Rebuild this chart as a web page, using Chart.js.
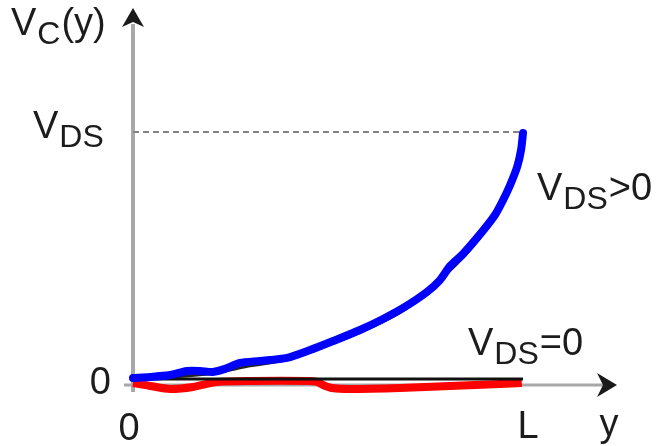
<!DOCTYPE html>
<html>
<head>
<meta charset="utf-8">
<script src="https://cdn.jsdelivr.net/npm/chart.js@4.4.0/dist/chart.umd.min.js"></script>
<style>
  html, body { margin: 0; padding: 0; background: #fff; }
  #caixa { width: 661px; height: 446px; }
</style>
</head>
<body>
<div id="caixa"><canvas id="graficoCanal"></canvas></div>
<script>
// posicao ao longo do canal (em unidades de L) e tensao do canal (em unidades de VDS)
var posPositivo = [0, 0.044, 0.095, 0.138, 0.172, 0.205, 0.236, 0.274, 0.326, 0.395, 0.454, 0.513, 0.582, 0.641, 0.697, 0.754, 0.787, 0.813, 0.846, 0.897, 0.928, 0.949, 0.967, 0.985, 0.995, 1.0];
var vcPositivo = [0.02, 0.024, 0.032, 0.048, 0.048, 0.044, 0.056, 0.080, 0.088, 0.100, 0.131, 0.167, 0.211, 0.255, 0.303, 0.363, 0.410, 0.466, 0.514, 0.606, 0.669, 0.729, 0.789, 0.861, 0.928, 0.996];

// curva teorica (preta) que fica quase toda escondida pela azul
var posTeorica = [0, 0.1, 0.2, 0.3, 0.4, 0.5, 0.6, 0.7, 0.8, 0.85, 0.9, 0.95, 0.98, 1.0];
var vcTeorica = [0.012, 0.024, 0.038, 0.068, 0.094, 0.150, 0.214, 0.296, 0.430, 0.506, 0.600, 0.720, 0.836, 0.98];

var posZero = [0, 0.044, 0.095, 0.154, 0.215, 0.3, 0.45, 0.472, 0.49, 0.51, 0.556, 0.685, 0.813, 0.941, 0.997];
var vcZero = [0, -0.012, -0.024, -0.016, 0.004, 0.008, 0.008, 0.004, -0.010, -0.020, -0.024, -0.020, -0.012, -0.004, 0];

var posReta = [0, 1];
var vcReta = [0.016, 0.016];
var nivelVds = [1, 1];

function pontos(xs, ys) {
  var lista = [];
  for (var i = 0; i < xs.length; i++) {
    lista.push({ x: xs[i], y: ys[i] });
  }
  return lista;
}

var corTexto = "#1c1c1c";
var fonte = "'Liberation Sans', Arial, sans-serif";

// escreve algo como V_DS>0 com o indice rebaixado
function rotulo(ctx, x, base, principal, indice, resto) {
  ctx.font = "38px " + fonte;
  ctx.fillText(principal, x, base);
  x += ctx.measureText(principal).width + 1;
  if (indice) {
    ctx.font = "32px " + fonte;
    ctx.fillText(indice, x, base + 9);
    x += ctx.measureText(indice).width + 1;
  }
  if (resto) {
    ctx.font = "38px " + fonte;
    ctx.fillText(resto, x, base);
  }
}

var eixos = {
  id: "eixos",
  beforeDatasetsDraw(chart) {
    var ctx = chart.ctx;
    var area = chart.chartArea;
    var x0 = chart.scales.x.getPixelForValue(0);
    var y0 = chart.scales.y.getPixelForValue(0) + 2;
    ctx.save();
    ctx.strokeStyle = "#a8a8a8";
    ctx.lineWidth = 4;
    ctx.beginPath();
    ctx.moveTo(x0, y0 + 7);
    ctx.lineTo(x0, area.top + 16);
    ctx.stroke();
    ctx.lineWidth = 3;
    ctx.beginPath();
    ctx.moveTo(x0 - 9, y0);
    ctx.lineTo(area.right - 14, y0);
    ctx.stroke();

    ctx.fillStyle = "#1a1a1a";
    ctx.beginPath();
    ctx.moveTo(x0, area.top);
    ctx.lineTo(x0 + 11, area.top + 19);
    ctx.lineTo(x0, area.top + 14);
    ctx.lineTo(x0 - 11, area.top + 19);
    ctx.closePath();
    ctx.fill();

    ctx.beginPath();
    ctx.moveTo(area.right, y0);
    ctx.lineTo(area.right - 20, y0 - 12);
    ctx.lineTo(area.right - 14, y0);
    ctx.lineTo(area.right - 20, y0 + 12);
    ctx.closePath();
    ctx.fill();
    ctx.restore();
  },
  afterDraw(chart) {
    var ctx = chart.ctx;
    var xs = chart.scales.x, ys = chart.scales.y;
    var x0 = xs.getPixelForValue(0);
    var y0 = ys.getPixelForValue(0);
    var yV = ys.getPixelForValue(1);
    var xL = xs.getPixelForValue(1);
    ctx.save();
    ctx.fillStyle = corTexto;
    ctx.textBaseline = "alphabetic";
    ctx.textAlign = "left";

    rotulo(ctx, 11, 35, "V", "C", "(y)");
    rotulo(ctx, 33, yV + 6, "V", "DS", "");
    rotulo(ctx, xL - 55, y0 - 28, "V", "DS", "=0");
    rotulo(ctx, xL + 14, yV + 68, "V", "DS", ">0");

    ctx.font = "38px " + fonte;
    ctx.textAlign = "right";
    ctx.fillText("0", x0 - 22, y0 + 11);
    ctx.textAlign = "center";
    ctx.fillText("0", x0 - 4, 440);
    ctx.fillText("L", xL + 5, 438);
    ctx.fillText("y", xL + 86, 436);
    ctx.restore();
  }
};

function plotarCanal() {
  // order menor fica por cima: azul no topo, reta preta sobre a vermelha
  const data = {
    datasets: [
      {
        label: "nivel VDS",
        data: pontos(posReta, nivelVds),
        borderColor: "#828282",
        borderWidth: 2,
        borderDash: [6, 4],
        pointRadius: 0,
        order: 5,
      },
      {
        label: "reta",
        data: pontos(posReta, vcReta),
        borderColor: "#111111",
        borderWidth: 3,
        pointRadius: 0,
        order: 2,
      },
      {
        label: "teorica",
        data: pontos(posTeorica, vcTeorica),
        borderColor: "#222222",
        borderWidth: 3,
        pointRadius: 0,
        tension: 0.3,
        order: 3,
      },
      {
        label: "VDS>0",
        data: pontos(posPositivo, vcPositivo),
        borderColor: "#0000ff",
        borderWidth: 8,
        pointRadius: 0,
        tension: 0.25,
        borderCapStyle: "round",
        order: 1,
      },
      {
        label: "VDS=0",
        data: pontos(posZero, vcZero),
        borderColor: "#ff0000",
        borderWidth: 8,
        pointRadius: 0,
        tension: 0.25,
        order: 4,
      },
    ],
  };

  const config = {
    type: "line",
    data: data,
    plugins: [eixos],
    options: {
      responsive: true,
      maintainAspectRatio: false,
      animation: false,
      clip: false,
      layout: { padding: { left: 133, right: 44, top: 8, bottom: 53 } },
      plugins: { legend: { display: false }, tooltip: { enabled: false } },
      scales: {
        x: { type: "linear", min: 0, max: 1.241, display: false },
        y: { type: "linear", min: -0.04, max: 1.494, display: false },
      },
    },
  };
  return new Chart(document.getElementById("graficoCanal"), config);
}

plotarCanal();
</script>
</body>
</html>
